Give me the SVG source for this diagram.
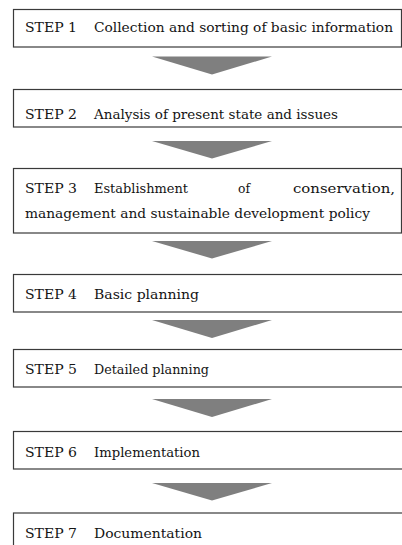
<svg xmlns="http://www.w3.org/2000/svg" width="402" height="545" viewBox="0 0 402 545">
  <style>
    .box { fill: #ffffff; stroke: #3a3a3a; stroke-width: 1.2; }
    .arrow { fill: #7f7f7f; }
    .t { font-family: "DejaVu Serif", "Liberation Serif", serif; font-size: 12.5px; fill: #141414; }
  </style>
  <rect width="402" height="545" fill="#ffffff"/>

  <!-- connectors: wide down-pointing wedges between steps -->
  <g id="connectors">
    <polygon class="arrow" points="152,56.5 272,56.5 212,74.5"/>
    <polygon class="arrow" points="152,141 272,141 212,158.5"/>
    <polygon class="arrow" points="152,241 272,241 212,258.5"/>
    <polygon class="arrow" points="152,320 272,320 212,338"/>
    <polygon class="arrow" points="152,399 272,399 212,417"/>
    <polygon class="arrow" points="152,483 272,483 212,500.5"/>
  </g>

  <g id="step1">
    <rect class="box" x="13.5" y="9.5" width="388" height="37.5"/>
    <text class="t" x="25" y="31.5" textLength="52" lengthAdjust="spacingAndGlyphs">STEP 1</text>
    <text class="t" x="94" y="31.5" textLength="299" lengthAdjust="spacingAndGlyphs">Collection and sorting of basic information</text>
  </g>

  <g id="step2">
    <rect class="box" x="13.5" y="89.5" width="392" height="37.5"/>
    <text class="t" x="25" y="119" textLength="52" lengthAdjust="spacingAndGlyphs">STEP 2</text>
    <text class="t" x="94" y="119" textLength="244" lengthAdjust="spacingAndGlyphs">Analysis of present state and issues</text>
  </g>

  <g id="step3">
    <rect class="box" x="13.5" y="168.5" width="388" height="64.5"/>
    <text class="t" x="25" y="193" textLength="52" lengthAdjust="spacingAndGlyphs">STEP 3</text>
    <text class="t" x="94" y="193" textLength="94" lengthAdjust="spacingAndGlyphs">Establishment</text>
    <text class="t" x="238" y="193" textLength="12" lengthAdjust="spacingAndGlyphs">of</text>
    <text class="t" x="293" y="193" textLength="102" lengthAdjust="spacingAndGlyphs">conservation,</text>
    <text class="t" x="25" y="218" textLength="345" lengthAdjust="spacingAndGlyphs">management and sustainable development policy</text>
  </g>

  <g id="step4">
    <rect class="box" x="13.5" y="274.5" width="392" height="37.5"/>
    <text class="t" x="25" y="299" textLength="52" lengthAdjust="spacingAndGlyphs">STEP 4</text>
    <text class="t" x="94" y="299" textLength="105" lengthAdjust="spacingAndGlyphs">Basic planning</text>
  </g>

  <g id="step5">
    <rect class="box" x="13.5" y="349.5" width="392" height="37.5"/>
    <text class="t" x="25" y="374" textLength="52" lengthAdjust="spacingAndGlyphs">STEP 5</text>
    <text class="t" x="94" y="374" textLength="115" lengthAdjust="spacingAndGlyphs">Detailed planning</text>
  </g>

  <g id="step6">
    <rect class="box" x="13.5" y="431.5" width="392" height="37.5"/>
    <text class="t" x="25" y="456.5" textLength="52" lengthAdjust="spacingAndGlyphs">STEP 6</text>
    <text class="t" x="94" y="456.5" textLength="106" lengthAdjust="spacingAndGlyphs">Implementation</text>
  </g>

  <g id="step7">
    <rect class="box" x="13.5" y="513" width="392" height="40"/>
    <text class="t" x="25" y="538" textLength="52" lengthAdjust="spacingAndGlyphs">STEP 7</text>
    <text class="t" x="94" y="538" textLength="108" lengthAdjust="spacingAndGlyphs">Documentation</text>
  </g>
</svg>
